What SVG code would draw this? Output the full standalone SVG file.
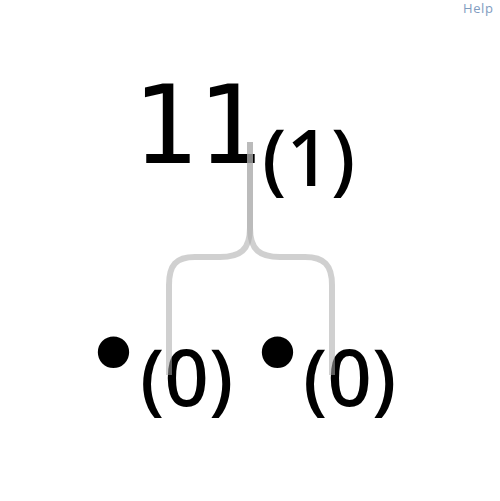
<svg xmlns="http://www.w3.org/2000/svg" width="500" height="501" viewBox="0 0 500 501">
<style>
.big{font-family:"DejaVu Sans Mono",monospace;font-size:108px;fill:#000}
.sub{font-family:"Noto Sans","Open Sans",sans-serif;font-size:78px;font-weight:500;fill:#000}
.edge{fill:none;stroke:#aaa;stroke-opacity:0.55;stroke-width:6}
.help{font-family:"Open Sans","Noto Sans",sans-serif;font-size:13px;letter-spacing:0.6px;fill:#7f9cbf}
</style>
<rect width="500" height="501" fill="#fff"/>
<text class="help" x="463" y="13">Help</text>
<g id="root">
<text class="big" x="132" y="163">11</text>
<text class="sub" x="262" y="186">(1)</text>
</g>
<g id="leaf1">
<text class="big" x="81" y="393">•</text>
<text class="sub" x="140" y="406">(0)</text>
</g>
<g id="leaf2">
<text class="big" x="245" y="393">•</text>
<text class="sub" x="303" y="406">(0)</text>
</g>
<g id="connectors">
<path class="edge" d="M250,142 L250,228 C250,250 240,257 220,257 L195,257 C176,257 169,265 169,285 L169,375"/>
<path class="edge" d="M250,142 L250,228 C250,250 260,257 280,257 L305,257 C324,257 332,265 332,285 L332,375"/>
</g>
</svg>
